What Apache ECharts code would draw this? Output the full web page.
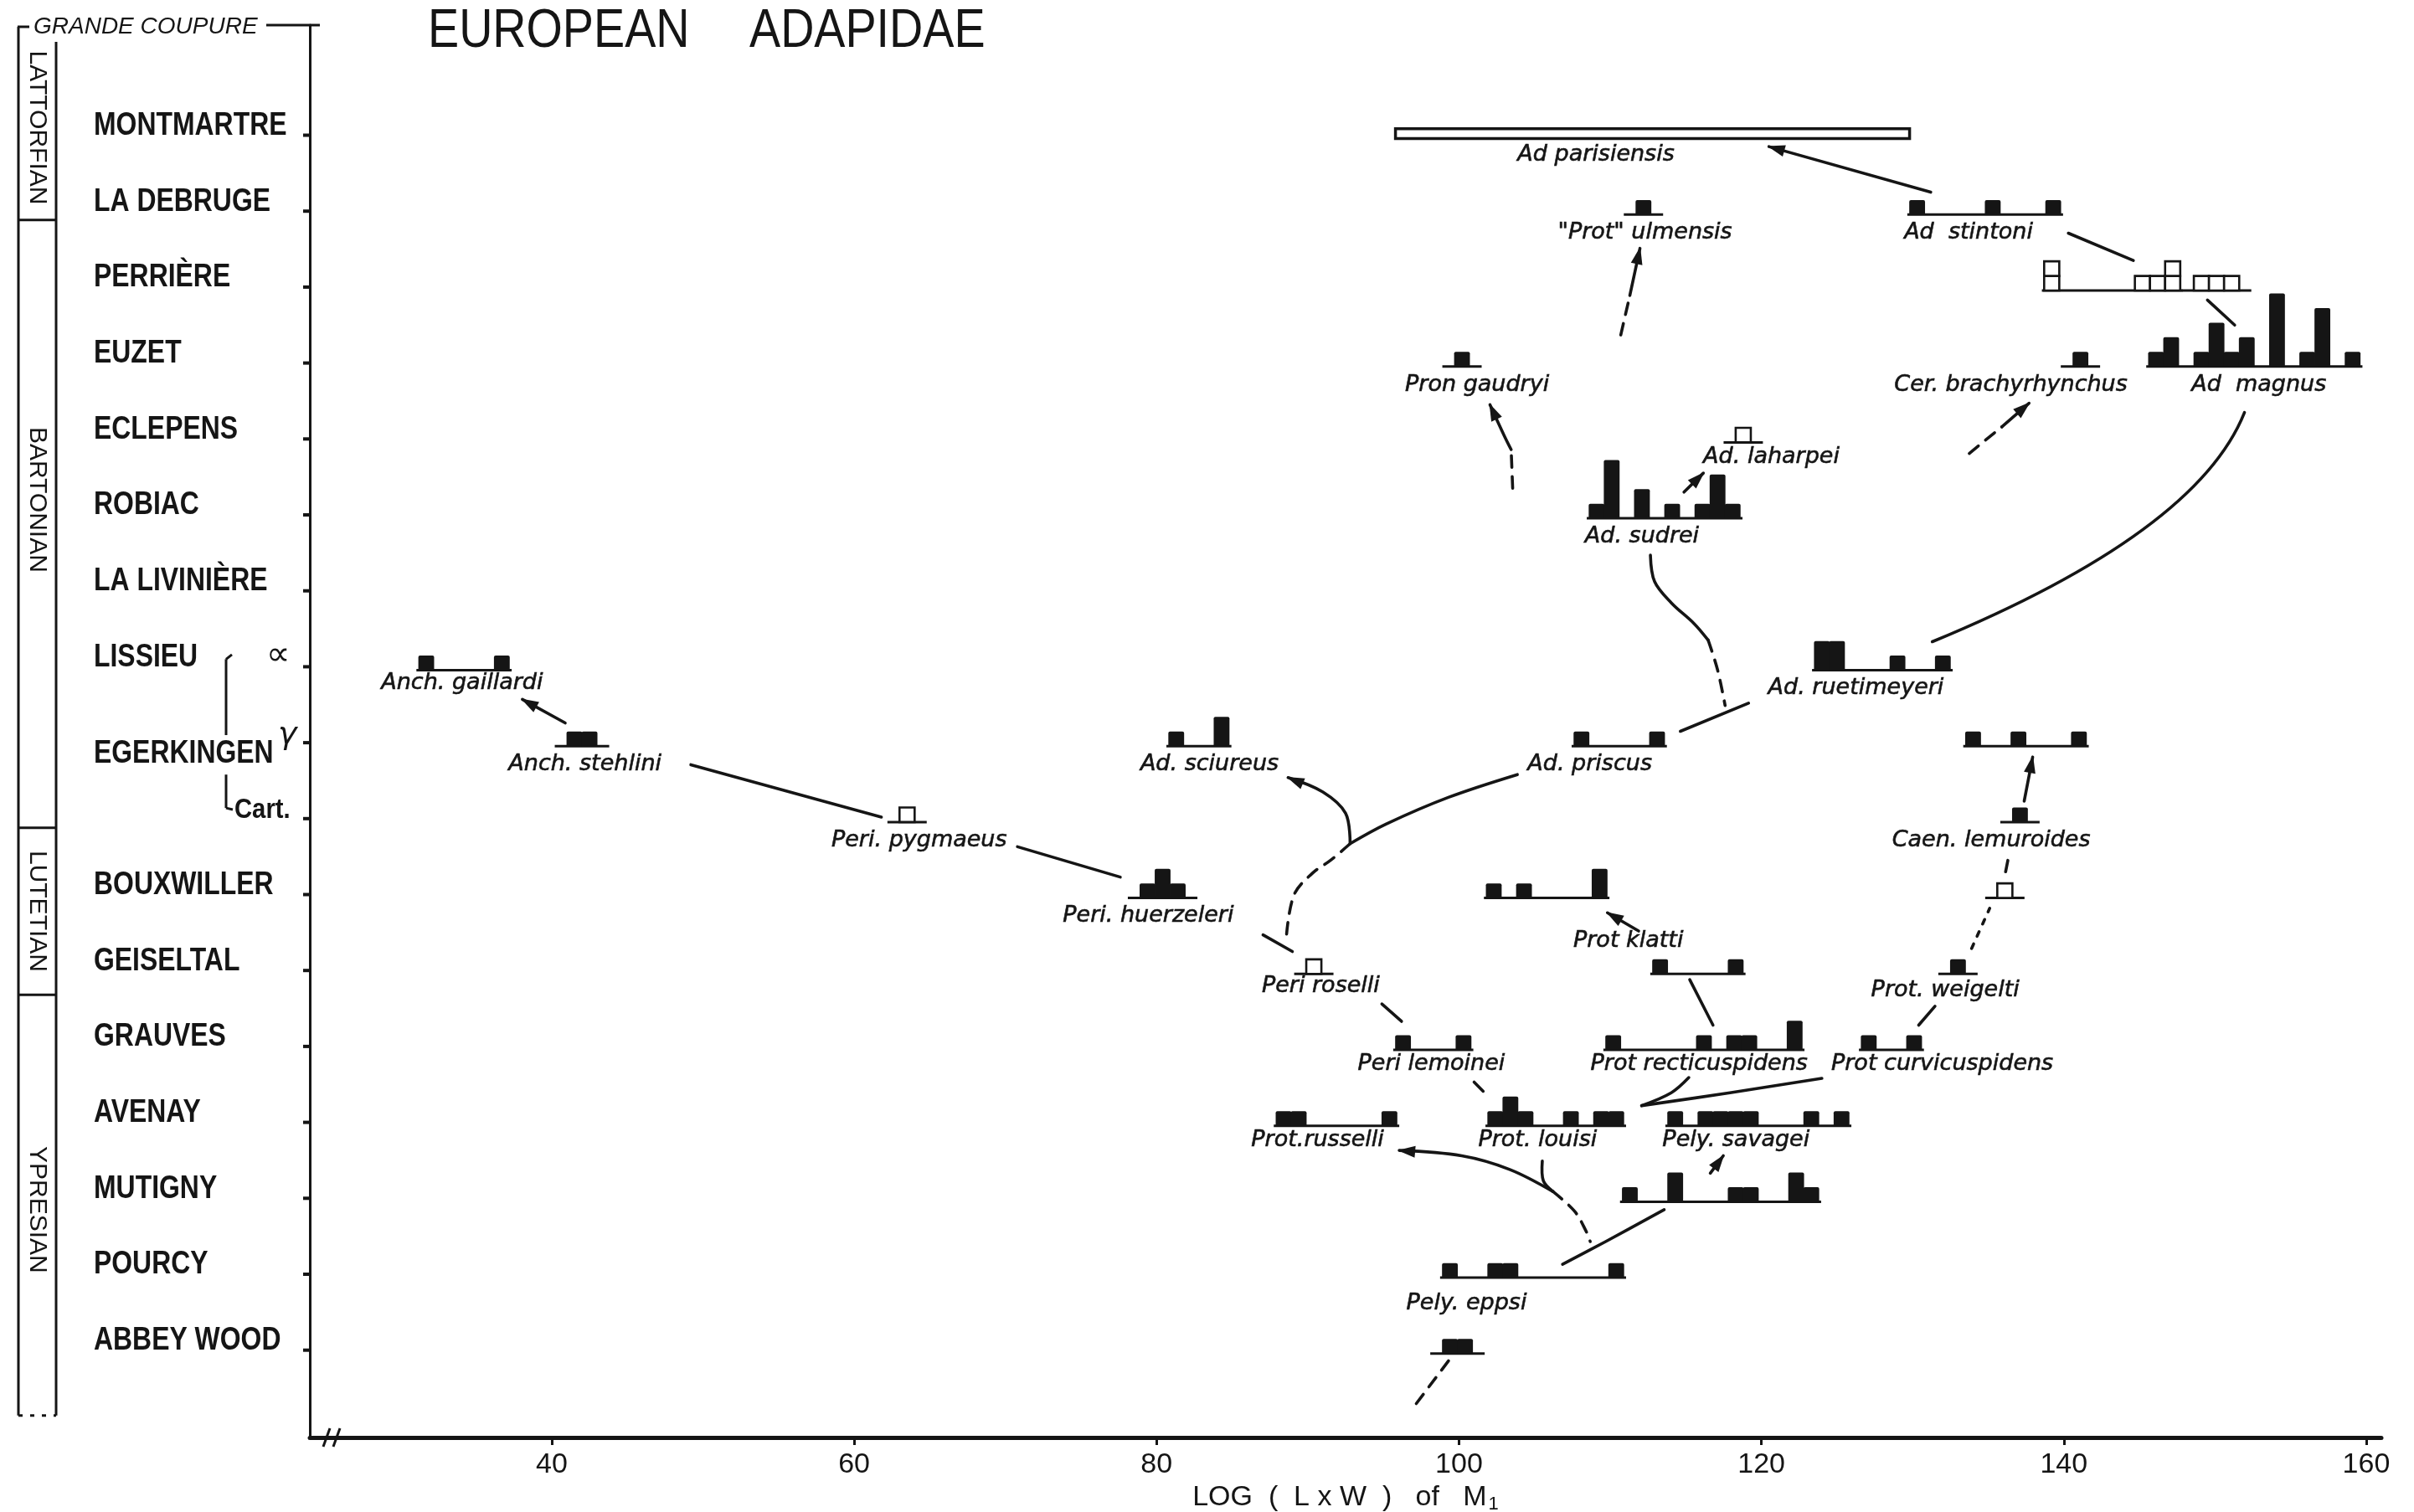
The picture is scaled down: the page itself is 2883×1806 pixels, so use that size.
<!DOCTYPE html>
<html>
<head>
<meta charset="utf-8">
<title>European Adapidae</title>
<script src="https://cdn.jsdelivr.net/npm/echarts@6/dist/echarts.min.js"></script>
<style>
  html, body { margin: 0; padding: 0; background: #ffffff; }
  #chart { width: 2883px; height: 1806px; }
</style>
</head>
<body>
<div id="chart"></div>
<script>
// Stratigraphic levels, youngest at the top
const levels = ['MONTMARTRE', 'LA DEBRUGE', 'PERRIÈRE', 'EUZET', 'ECLEPENS', 'ROBIAC',
  'LA LIVINIÈRE', 'LISSIEU', 'EGERKINGEN', 'Cart.', 'BOUXWILLER', 'GEISELTAL',
  'GRAUVES', 'AVENAY', 'MUTIGNY', 'POURCY', 'ABBEY WOOD'];
const xTicks = [40, 60, 80, 100, 120, 140, 160];

// Stage boxes: name, upper limit, lower limit, centre of the name (level units)
const stages = [
  ['LATTORFIAN', -1.23, 1.115, -0.1],
  ['BARTONIAN', 1.115, 9.12, 4.8],
  ['LUTETIAN', 9.12, 11.32, 10.22],
  ['YPRESIAN', 11.32, 16.86, 14.15]
];

// Specimen counts in one-unit bins of log(L x W) of M1: [level, first bin, counts]
const protUlmensis       = ['LA DEBRUGE', 111.7, [1]];
const adStintoni         = ['LA DEBRUGE', 129.8, [1, 0, 0, 0, 0, 1, 0, 0, 0, 1]];
const pronGaudryi        = ['EUZET', 99.7, [1]];
const cerBrachyrhynchus  = ['EUZET', 140.6, [1]];
const adMagnus           = ['EUZET', 145.6, [1, 2, 0, 1, 3, 1, 2, 0, 5, 0, 1, 4, 0, 1]];
const adSudrei           = ['ROBIAC', 108.6, [1, 4, 0, 2, 0, 1, 0, 1, 3, 1]];
const anchGaillardi      = ['LISSIEU', 31.2, [1, 0, 0, 0, 0, 1]];
const adRuetimeyeri      = ['LISSIEU', 123.5, [2, 2, 0, 0, 0, 1, 0, 0, 1]];
const anchStehlini       = ['EGERKINGEN', 41.0, [1, 1]];
const adSciureus         = ['EGERKINGEN', 80.8, [1, 0, 0, 2]];
const adPriscus          = ['EGERKINGEN', 107.6, [1, 0, 0, 0, 0, 1]];
const egerkingenCaen     = ['EGERKINGEN', 133.5, [1, 0, 0, 1, 0, 0, 0, 1]];
const caenLemuroides     = ['Cart.', 136.6, [1]];
const periHuerzeleri     = ['BOUXWILLER', 78.9, [1, 2, 1]];
const protKlatti         = ['BOUXWILLER', 101.8, [1, 0, 1, 0, 0, 0, 0, 2]];
const geiseltalProt      = ['GEISELTAL', 112.8, [1, 0, 0, 0, 0, 1]];
const protWeigelti       = ['GEISELTAL', 132.5, [1]];
const periLemoinei       = ['GRAUVES', 95.8, [1, 0, 0, 0, 1]];
const protRecticuspidens = ['GRAUVES', 109.7, [1, 0, 0, 0, 0, 0, 1, 0, 1, 1, 0, 0, 2]];
const protCurvicuspidens = ['GRAUVES', 126.6, [1, 0, 0, 1]];
const protRusselli       = ['AVENAY', 87.9, [1, 1, 0, 0, 0, 0, 0, 1]];
const protLouisi         = ['AVENAY', 101.9, [1, 2, 1, 0, 0, 1, 0, 1, 1]];
const pelySavagei        = ['AVENAY', 113.8, [1, 0, 1, 1, 1, 1, 0, 0, 0, 1, 0, 1]];
const mutignyPely        = ['MUTIGNY', 110.8, [1, 0, 0, 2, 0, 0, 0, 1, 1, 0, 0, 2, 1]];
const pelyEppsi          = ['POURCY', 98.9, [1, 0, 0, 1, 1, 0, 0, 0, 0, 0, 0, 1]];
const abbeyWoodPely      = ['ABBEY WOOD', 98.9, [1, 1]];

// Doubtful attributions, drawn as open boxes
const perriereSmall      = ['PERRIÈRE', 138.7, [2, 0, 0, 0, 0, 0, 1, 1, 2]];
const perriereLarge      = ['PERRIÈRE', 148.6, [1, 1, 1]];
const adLaharpei         = ['ECLEPENS', 118.3, [1]];
const periPygmaeus       = ['Cart.', 63.0, [1]];
const bouxwillerCaen     = ['BOUXWILLER', 135.6, [1]];
const periRoselli        = ['GEISELTAL', 89.9, [1]];

// Observed range only: [level, smallest, largest]
const adParisiensis = ['MONTMARTRE', 95.8, 129.8];

const solidHistograms = [protUlmensis, adStintoni, pronGaudryi, cerBrachyrhynchus, adMagnus,
  adSudrei, anchGaillardi, adRuetimeyeri, anchStehlini, adSciureus, adPriscus, egerkingenCaen,
  caenLemuroides, periHuerzeleri, protKlatti, geiseltalProt, protWeigelti, periLemoinei,
  protRecticuspidens, protCurvicuspidens, protRusselli, protLouisi, pelySavagei, mutignyPely,
  pelyEppsi, abbeyWoodPely];
const openHistograms = [perriereSmall, perriereLarge, adLaharpei, periPygmaeus, bouxwillerCaen, periRoselli];

// Species names: [text, x, level]
const speciesLabels = [
  ['Ad parisiensis', 109.06, 0.26],
  ['"Prot" ulmensis', 112.3, 1.28],
  ['Ad  stintoni', 133.7, 1.28],
  ['Pron gaudryi', 101.2, 3.29],
  ['Cer. brachyrhynchus', 136.5, 3.29],
  ['Ad  magnus', 152.9, 3.29],
  ['Ad. laharpei', 120.66, 4.24],
  ['Ad. sudrei', 112.1, 5.29],
  ['Anch. gaillardi', 34.07, 7.22],
  ['Ad. ruetimeyeri', 126.25, 7.28],
  ['Anch. stehlini', 42.2, 8.29],
  ['Ad. sciureus', 83.5, 8.29],
  ['Ad. priscus', 108.65, 8.29],
  ['Peri. pygmaeus', 64.3, 9.29],
  ['Caen. lemuroides', 135.2, 9.29],
  ['Peri. huerzeleri', 79.45, 10.28],
  ['Prot klatti', 111.2, 10.61],
  ['Peri roselli', 90.86, 11.21],
  ['Prot. weigelti', 132.16, 11.26],
  ['Peri lemoinei', 98.17, 12.23],
  ['Prot recticuspidens', 115.88, 12.23],
  ['Prot curvicuspidens', 131.96, 12.23],
  ['Prot.russelli', 90.65, 13.24],
  ['Prot. louisi', 105.2, 13.24],
  ['Pely. savagei', 118.32, 13.24],
  ['Pely. eppsi', 100.5, 15.39]
];

// Lineages: each a list of [stroke kind, points as [x, level]]
const lineage = [
  [['arrow', [[131.2, 0.75], [120.5, 0.15]]]],
  [['solid', [[140.3, 1.29], [144.6, 1.65]]]],
  [['solid', [[149.5, 2.17], [151.3, 2.5]]]],
  [['dash', [[110.7, 2.63], [111.3, 2.11]]], ['arrow', [[111.3, 2.11], [111.97, 1.49]]]],
  [['dash', [[103.55, 4.65], [103.45, 4.14]]], ['arrow', [[103.45, 4.14], [103.0, 3.96], [102.05, 3.55]]]],
  [['dash', [[133.75, 4.19], [135.9, 3.84]]], ['arrow', [[135.9, 3.84], [137.7, 3.53]]]],
  [['curve', [[131.3, 6.67], [148.8, 5.23], [151.95, 3.65]]]],
  [['solid', [[112.66, 5.53], [112.94, 5.88], [114.05, 6.16], [115.54, 6.43], [116.48, 6.65]]],
   ['dash', [[116.48, 6.65], [117.1, 7.04], [117.6, 7.51]]]],
  [['solid', [[114.64, 7.85], [119.15, 7.48]]]],
  [['dash', [[88.6, 10.52], [89.1, 10.0], [90.3, 9.72], [91.5, 9.55], [92.8, 9.33]]],
   ['solid', [[92.8, 9.33], [95.2, 9.07], [99.3, 8.72], [103.86, 8.42]]]],
  [['arrow', [[92.8, 9.33], [92.5, 8.93], [91.0, 8.65], [88.7, 8.46]]]],
  [['solid', [[49.2, 8.29], [61.8, 8.98]]]],
  [['arrow', [[40.89, 7.74], [38.06, 7.43]]]],
  [['solid', [[70.8, 9.37], [77.6, 9.77]]]],
  [['solid', [[87.04, 10.53], [88.98, 10.75]]]],
  [['solid', [[94.9, 11.44], [96.2, 11.67]]]],
  [['solid', [[101.0, 12.47], [101.6, 12.59]]]],
  [['solid', [[116.8, 11.72], [115.26, 11.12]]]],
  [['solid', [[131.48, 11.47], [130.4, 11.72]]]],
  [['dot', [[133.9, 10.71], [135.1, 10.18]]]],
  [['solid', [[136.3, 9.55], [136.15, 9.7]]]],
  [['arrow', [[137.38, 8.77], [137.94, 8.19]]]],
  [['arrow', [[111.88, 10.48], [109.82, 10.24]]]],
  [['solid', [[115.2, 12.41], [114.04, 12.61], [112.08, 12.78]]]],
  [['solid', [[124.0, 12.42], [117.92, 12.61], [112.08, 12.78]]]],
  [['solid', [[105.51, 13.51], [105.58, 13.77], [106.21, 13.91]]]],
  [['arrow', [[106.21, 13.91], [103.35, 13.62], [100.18, 13.44], [96.05, 13.37]]]],
  [['dash', [[106.21, 13.91], [107.64, 14.17], [108.4, 14.43], [108.68, 14.57]]]],
  [['solid', [[113.57, 14.15], [109.7, 14.57], [106.85, 14.87]]]],
  [['arrow', [[116.62, 13.67], [117.48, 13.44]]]],
  [['dash', [[99.31, 16.14], [97.0, 16.75]]]],
  [['arrow', [[114.88, 4.7], [116.16, 4.45]]]]
];

const X_MIN = 24, X_MAX = 161, Y_MIN = -1.45, Y_MAX = 17.15;
const INK = '#151515';
const SANS = '"Liberation Sans", Arial, sans-serif';
const BAR_UNIT = 0.192;   // height of one specimen, in level units
const BASE_DROP = 0.045;  // histogram baselines sit just under the level tick
const lvl = name => levels.indexOf(name);

function histogramRenderer(list, open) {
  return function (params, api) {
    const [name, from, counts] = list[params.dataIndex];
    const L = lvl(name) + BASE_DROP;
    const used = counts.map((c, i) => (c > 0 ? i : -1)).filter(i => i >= 0);
    const compact = used.length && used[used.length - 1] - used[0] + 1 === used.length && counts.length <= 3;
    const lip = compact ? 0.8 : 0.15;
    const kids = [];
    const a = api.coord([from - lip, L]);
    const b = api.coord([from + counts.length + lip, L]);
    kids.push({ type: 'line', shape: { x1: a[0], y1: a[1], x2: b[0], y2: b[1] },
      style: { stroke: INK, lineWidth: 3 } });
    counts.forEach((c, i) => {
      if (!c) return;
      if (!open) {
        const p0 = api.coord([from + i, L]);
        const p1 = api.coord([from + i + 1, L - c * BAR_UNIT]);
        kids.push({ type: 'rect', shape: { x: p0[0] - 0.4, y: p1[1], width: p1[0] - p0[0] + 0.8, height: p0[1] - p1[1], r: [2, 2, 0, 0] },
          style: { fill: INK } });
      } else {
        for (let k = 0; k < c; k++) {
          const p0 = api.coord([from + i, L - k * BAR_UNIT]);
          const p1 = api.coord([from + i + 1, L - (k + 1) * BAR_UNIT]);
          kids.push({ type: 'rect', shape: { x: p0[0], y: p1[1], width: p1[0] - p0[0], height: p0[1] - p1[1] },
            style: { fill: '#ffffff', stroke: INK, lineWidth: 2.6 } });
        }
      }
    });
    return { type: 'group', children: kids };
  };
}

function renderRange(params, api) {
  const [name, lo, hi] = adParisiensis;
  const L = lvl(name) + BASE_DROP;
  const p0 = api.coord([lo, L]);
  const p1 = api.coord([hi, L - 0.13]);
  return { type: 'rect', shape: { x: p0[0], y: p1[1], width: p1[0] - p0[0], height: p0[1] - p1[1] },
    style: { fill: '#ffffff', stroke: INK, lineWidth: 3.5 } };
}

function renderSpecies(params, api) {
  const [text, x, L] = speciesLabels[params.dataIndex];
  const p = api.coord([x, L]);
  return { type: 'text', x: p[0], y: p[1],
    style: { text, fill: INK, align: 'center', verticalAlign: 'middle',
      fontFamily: '"DejaVu Sans", sans-serif', fontStyle: 'italic', fontSize: 27,
      stroke: INK, lineWidth: 0.6 } };
}

function arrowHead(p, q) {
  const dx = q[0] - p[0], dy = q[1] - p[1];
  const d = Math.hypot(dx, dy) || 1;
  const ux = dx / d, uy = dy / d, nx = -uy, ny = ux;
  const len = 19, half = 7;
  const bx = q[0] - ux * len, by = q[1] - uy * len;
  return { type: 'polygon',
    shape: { points: [[q[0] + ux * 2, q[1] + uy * 2], [bx + nx * half, by + ny * half], [bx - nx * half, by - ny * half]] },
    style: { fill: INK } };
}

function renderLineage(params, api) {
  const kids = [];
  lineage[params.dataIndex].forEach(([kind, pts]) => {
    const px = pts.map(p => api.coord(p));
    const style = { stroke: INK, lineWidth: 3.6, fill: null, lineCap: 'round' };
    if (kind === 'dash') style.lineDash = [14, 11];
    if (kind === 'dot') style.lineDash = [6, 10];
    if (kind === 'curve') {
      kids.push({ type: 'bezierCurve',
        shape: { x1: px[0][0], y1: px[0][1], cpx1: px[1][0], cpy1: px[1][1], x2: px[2][0], y2: px[2][1] },
        style });
      return;
    }
    kids.push({ type: 'polyline', shape: { points: px, smooth: px.length > 2 ? 0.35 : 0 }, style });
    if (kind === 'arrow') kids.push(arrowHead(px[px.length - 2], px[px.length - 1]));
  });
  return { type: 'group', children: kids };
}

// Title, level names, level ticks, stage column and the Egerkingen bracket
function renderFrame(params, api) {
  const left = api.coord([X_MIN, 0])[0];
  const y = L => api.coord([X_MIN, L])[1];
  const kids = [];
  const seg = (x1, y1, x2, y2, w, dash) => kids.push({ type: 'line', shape: { x1, y1, x2, y2 },
    style: { stroke: INK, lineWidth: w || 3, lineDash: dash || null } });
  const txt = (text, x, yy, extra, transform) => kids.push(Object.assign({ type: 'text', x, y: yy,
    style: Object.assign({ text, fill: INK, align: 'left', verticalAlign: 'middle',
      fontFamily: SANS, fontWeight: 'bold', fontSize: 38 }, extra) }, transform || {}));

  // Title
  txt('EUROPEAN', 511, 38, { fontWeight: 'normal', fontSize: 64 }, { scaleX: 0.87 });
  txt('ADAPIDAE', 895, 38, { fontWeight: 'normal', fontSize: 64 }, { scaleX: 0.87 });

  levels.forEach((name, i) => {
    const ty = y(i);
    seg(left - 8, ty, left, ty, 4);
    if (name === 'Cart.') txt(name, left - 90, ty - 10, { fontSize: 34 }, { scaleX: 0.86 });
    else if (name === 'EGERKINGEN') txt(name, left - 258, ty + 13, {}, { scaleX: 0.84 });
    else txt(name, left - 258, ty - 11, {}, { scaleX: 0.84 });
  });

  // Grande Coupure marker along the top
  const top = y(Y_MIN);
  txt('GRANDE COUPURE', left - 330, top + 2, { fontWeight: 'normal', fontStyle: 'italic', fontSize: 28 });
  seg(left - 52, top, left + 12, top, 3);

  // Stage column
  const cx0 = left - 348, cx1 = left - 303;
  const bottom = y(stages[stages.length - 1][2]);
  seg(cx0, top + 2, cx0, bottom, 3);
  seg(cx0 - 1, top + 2, cx0 + 13, top + 2, 3);
  seg(cx1, y(stages[0][1]), cx1, bottom, 3);
  stages.forEach(([name, from, to, mid], i) => {
    if (i < stages.length - 1) seg(cx0, y(to), cx1, y(to), 3);
    txt(name, (cx0 + cx1) / 2, y(mid), { align: 'center', fontWeight: 'normal', fontSize: 30 }, { rotation: -Math.PI / 2 });
  });
  seg(cx0, bottom, cx1, bottom, 3, [5, 9]);

  // Egerkingen reference levels
  const bx = left - 100;
  seg(bx, y(6.9), bx, y(7.9), 3);
  seg(bx, y(6.9), bx + 7, y(6.84), 3);
  seg(bx, y(8.42), bx, y(8.86), 3);
  seg(bx, y(8.86), bx + 8, y(8.88), 3);
  txt('∝', left - 52, y(6.86), { fontFamily: '"DejaVu Sans", sans-serif', fontWeight: 'normal', fontSize: 40 });
  txt('γ', left - 38, y(7.9), { fontFamily: '"DejaVu Sans", sans-serif', fontWeight: 'normal', fontStyle: 'italic', fontSize: 38 });

  // Break in the size scale
  const ay = api.coord([X_MIN, Y_MAX])[1];
  seg(left + 16, ay + 11, left + 24, ay - 11, 3);
  seg(left + 28, ay + 11, left + 36, ay - 11, 3);
  return { type: 'group', children: kids };
}

const chart = echarts.init(document.getElementById('chart'), null, { renderer: 'canvas' });
chart.setOption({
  animation: false,
  backgroundColor: '#ffffff',
  grid: { left: 370, right: 39, top: 30, bottom: 89, containLabel: false, outerBoundsMode: 'none' },
  xAxis: {
    type: 'value', min: X_MIN, max: X_MAX,
    axisLine: { show: true, onZero: false, lineStyle: { color: INK, width: 5 } },
    axisTick: { show: true, customValues: xTicks, length: 9, lineStyle: { color: INK, width: 3 } },
    axisLabel: { customValues: xTicks, color: INK, fontFamily: SANS, fontSize: 34, margin: 16 },
    splitLine: { show: false },
    name: 'LOG  (  L x W  )   of   M{s|1}',
    nameLocation: 'middle', nameGap: 50,
    nameTextStyle: { color: INK, fontFamily: SANS, fontSize: 34,
      rich: { s: { fontFamily: SANS, fontSize: 22, color: INK, padding: [16, 0, 0, 2] } } }
  },
  yAxis: {
    type: 'value', inverse: true, min: Y_MIN, max: Y_MAX,
    axisLine: { show: true, onZero: false, lineStyle: { color: INK, width: 3 } },
    axisTick: { show: false }, axisLabel: { show: false }, splitLine: { show: false }
  },
  series: [
    { type: 'custom', name: 'frame', silent: true, data: [[X_MIN, 0]], renderItem: renderFrame },
    { type: 'custom', name: 'lineages', silent: true, data: lineage.map(l => l[0][1][0]), renderItem: renderLineage },
    { type: 'custom', name: 'range', silent: true, data: [[adParisiensis[1], lvl(adParisiensis[0])]], renderItem: renderRange },
    { type: 'custom', name: 'specimens', silent: true, data: solidHistograms.map(h => [h[1], lvl(h[0])]), renderItem: histogramRenderer(solidHistograms, false) },
    { type: 'custom', name: 'open', silent: true, data: openHistograms.map(h => [h[1], lvl(h[0])]), renderItem: histogramRenderer(openHistograms, true) },
    { type: 'custom', name: 'species', silent: true, data: speciesLabels.map(s => [s[1], s[2]]), renderItem: renderSpecies }
  ]
});
</script>
</body>
</html>
